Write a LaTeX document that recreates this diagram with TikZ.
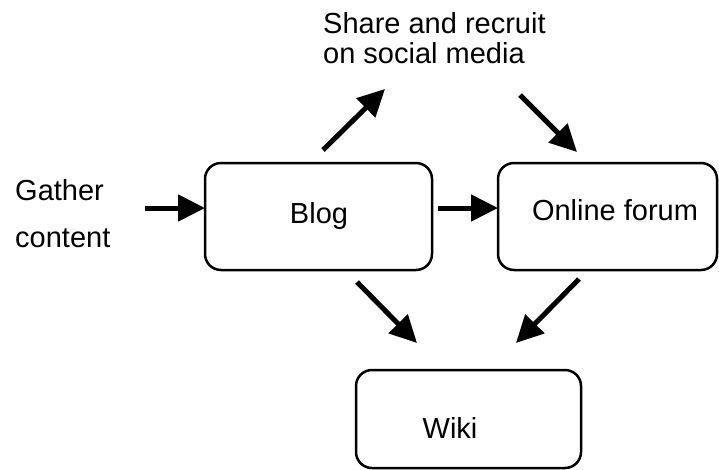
\documentclass[tikz,border=0pt]{standalone}
\usepackage{fontspec}
\setmainfont{Liberation Sans}
\usetikzlibrary{arrows.meta}
\tikzset{
  box/.style={draw=black, line width=2.5pt, rounded corners=16pt, inner sep=0pt},
  lbl/.style={inner sep=0pt, font=\fontsize{29}{30}\selectfont, text=black},
  arr/.style={line width=5pt, -{Triangle[length=27pt,width=26pt]}},
}
\begin{document}
\begin{tikzpicture}[x=1pt,y=-1pt]
\useasboundingbox (0,0) rectangle (719,469);
% boxes
\node[box, minimum width=227pt, minimum height=107pt] (blog) at (318.5,216.5) {};
\node[box, minimum width=219pt, minimum height=107pt] (forum) at (607.5,216.5) {};
\node[box, minimum width=225pt, minimum height=98pt] (wiki) at (468.5,419) {};
% labels
\node[lbl, anchor=base] (blogt) at (319,223) {Blog};
\node[lbl, anchor=base] (forumt) at (615,220) {Online forum};
\node[lbl, anchor=base] (wikit) at (450,438) {Wiki};
\node[lbl, anchor=base west] (gather1) at (15,200) {Gather};
\node[lbl, anchor=base west] (gather2) at (15,247) {content};
\node[lbl, anchor=base west] (share1) at (323,33) {Share and recruit};
\node[lbl, anchor=base west] (share2) at (323,63) {on social media};
% connector end points
\coordinate (g0) at (145,208);
\coordinate (g1) at (205,208);
\coordinate (b0) at (438,208);
\coordinate (b1) at (498,208);
\coordinate (s0) at (323,150);
\coordinate (s1) at (385,89);
\coordinate (t0) at (520,95);
\coordinate (t1) at (577,152);
\coordinate (w0) at (357,282);
\coordinate (w1) at (417,343);
\coordinate (f0) at (579,279);
\coordinate (f1) at (516,343);
% connectors
\draw[arr] (g0) -- (g1);
\draw[arr] (b0) -- (b1);
\draw[arr] (s0) -- (s1);
\draw[arr] (t0) -- (t1);
\draw[arr] (w0) -- (w1);
\draw[arr] (f0) -- (f1);
\end{tikzpicture}
\end{document}
